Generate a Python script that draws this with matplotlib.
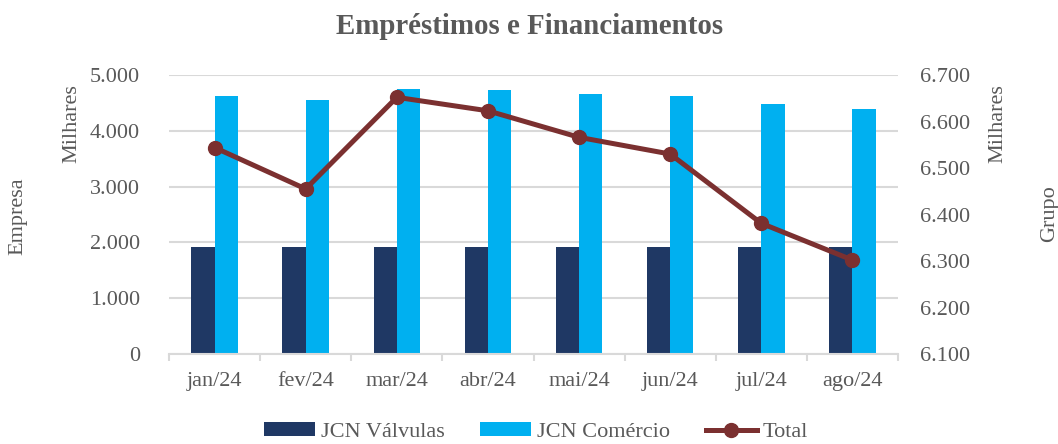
import matplotlib
matplotlib.use("Agg")
import matplotlib.pyplot as plt
import numpy as np
from matplotlib.ticker import FuncFormatter

months = ["jan/24", "fev/24", "mar/24", "abr/24", "mai/24", "jun/24", "jul/24", "ago/24"]
valvulas = [1925, 1915, 1920, 1915, 1915, 1915, 1915, 1915]
comercio = [4630, 4550, 4745, 4725, 4665, 4630, 4480, 4395]
total = [6544, 6455, 6652, 6623, 6566, 6530, 6381, 6302]

C_DARK = "#1F3864"
C_LIGHT = "#00B0F0"
C_LINE = "#7B3030"
C_TEXT = "#595959"
C_GRID = "#D9D9D9"

plt.rcParams['font.family'] = ['Liberation Serif', 'DejaVu Serif']

fig = plt.figure(figsize=(10.58, 4.44), dpi=100)
ax = fig.add_axes([169/1058, 1-354/444, (898-169)/1058, (354-75)/444])
ax2 = ax.twinx()

x = np.arange(len(months))
w = 0.255
b1 = ax.bar(x - w/2, valvulas, w, color=C_DARK, label="JCN Válvulas", zorder=2)
b2 = ax.bar(x + w/2, comercio, w, color=C_LIGHT, label="JCN Comércio", zorder=2)
ln, = ax2.plot(x, total, color=C_LINE, lw=3.6, marker='o', ms=10, label="Total", zorder=3)

ax.set_xlim(-0.5, len(months) - 0.5)
ax.set_ylim(0, 5000)
ax.set_yticks(np.arange(0, 5001, 1000))
ax2.set_ylim(6100, 6700)
ax2.set_yticks(np.arange(6100, 6701, 100))

fmt = lambda v, p: f"{v:,.0f}".replace(",", ".")
ax.yaxis.set_major_formatter(FuncFormatter(fmt))
ax2.yaxis.set_major_formatter(FuncFormatter(fmt))

ax.grid(axis='y', color=C_GRID, lw=1.5, zorder=0)
ax.set_axisbelow(True)
for a in (ax, ax2):
    for s in ("top", "left", "right", "bottom"):
        a.spines[s].set_visible(False)
ax.spines["bottom"].set_visible(True)
ax.spines["bottom"].set_color(C_GRID)
ax.spines["bottom"].set_linewidth(1.5)

ax.set_xticks(x)
ax.set_xticklabels(months)
ax.set_xticks(np.arange(-0.5, len(months), 1), minor=True)
ax.tick_params(axis='x', which='major', length=0, pad=13, labelsize=16, labelcolor=C_TEXT)
ax.tick_params(axis='x', which='minor', length=5, width=1.5, color=C_GRID, direction='out')
ax.tick_params(axis='y', length=0, pad=21, labelsize=16, labelcolor=C_TEXT)
ax2.tick_params(axis='y', length=0, pad=16, labelsize=16, labelcolor=C_TEXT)

fig.text(72/1058, 1-124/444, "Milhares", rotation=90, ha='center', va='center', fontsize=16, color=C_TEXT)
fig.text(998/1058, 1-124/444, "Milhares", rotation=90, ha='center', va='center', fontsize=16, color=C_TEXT)
fig.text(18/1058, 1-216/444, "Empresa", rotation=90, ha='center', va='center', fontsize=16, color=C_TEXT)
fig.text(1050/1058, 1-214/444, "Grupo", rotation=90, ha='center', va='center', fontsize=16, color=C_TEXT)

fig.text(530/1058, 1-27/444, "Empréstimos e Financiamentos", ha='center', va='center',
         fontsize=20.8, fontweight='bold', color=C_TEXT)

leg = fig.legend([b1, b2, ln], ["JCN Válvulas", "JCN Comércio", "Total"],
                 loc='center', bbox_to_anchor=(536/1058, 1-432/444), ncol=3, frameon=False,
                 fontsize=16, labelcolor=C_TEXT, handlelength=2.3, handleheight=0.6,
                 handletextpad=0.25, columnspacing=1.6)

fig.savefig("out.png", dpi=100)
